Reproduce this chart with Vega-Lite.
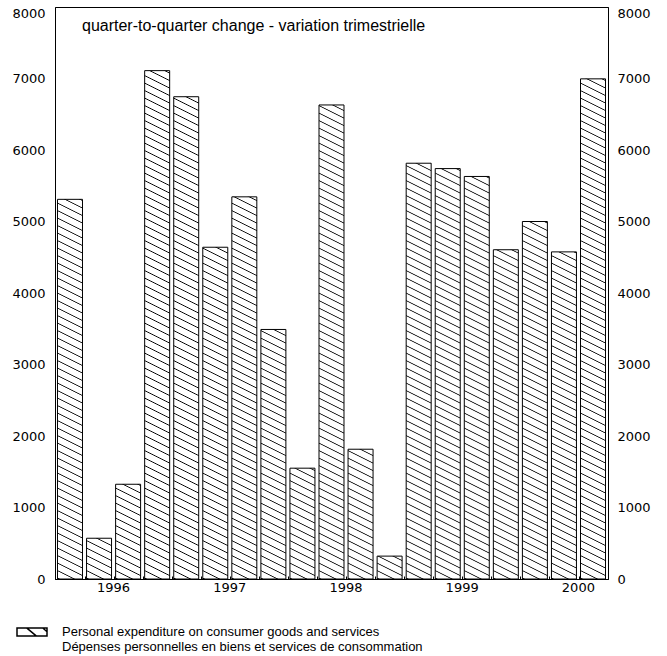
{
  "$schema": "https://vega.github.io/schema/vega-lite/v6.json",
  "autosize": "none",
  "padding": {"left": 55, "top": 7, "right": 59, "bottom": 77},
  "width": 553,
  "height": 572,
  "background": "white",
  "config": {
    "view": {"stroke": "black", "strokeWidth": 1},
    "font": "Liberation Sans"
  },
  "params": [
    {
      "name": "hatch",
      "value": [
        {"offset":0,"color":"#fff"},{"offset":0.0012,"color":"#000"},{"offset":0.0024,"color":"#fff"},
        {"offset":0.01,"color":"#fff"},{"offset":0.0112,"color":"#000"},{"offset":0.0124,"color":"#fff"},
        {"offset":0.02,"color":"#fff"},{"offset":0.0212,"color":"#000"},{"offset":0.0224,"color":"#fff"},
        {"offset":0.03,"color":"#fff"},{"offset":0.0312,"color":"#000"},{"offset":0.0324,"color":"#fff"},
        {"offset":0.04,"color":"#fff"},{"offset":0.0412,"color":"#000"},{"offset":0.0424,"color":"#fff"},
        {"offset":0.05,"color":"#fff"},{"offset":0.0512,"color":"#000"},{"offset":0.0524,"color":"#fff"},
        {"offset":0.06,"color":"#fff"},{"offset":0.0612,"color":"#000"},{"offset":0.0624,"color":"#fff"},
        {"offset":0.07,"color":"#fff"},{"offset":0.0712,"color":"#000"},{"offset":0.0724,"color":"#fff"},
        {"offset":0.08,"color":"#fff"},{"offset":0.0812,"color":"#000"},{"offset":0.0824,"color":"#fff"},
        {"offset":0.09,"color":"#fff"},{"offset":0.0912,"color":"#000"},{"offset":0.0924,"color":"#fff"},
        {"offset":0.10,"color":"#fff"},{"offset":0.1012,"color":"#000"},{"offset":0.1024,"color":"#fff"},
        {"offset":0.11,"color":"#fff"},{"offset":0.1112,"color":"#000"},{"offset":0.1124,"color":"#fff"},
        {"offset":0.12,"color":"#fff"},{"offset":0.1212,"color":"#000"},{"offset":0.1224,"color":"#fff"},
        {"offset":0.13,"color":"#fff"},{"offset":0.1312,"color":"#000"},{"offset":0.1324,"color":"#fff"},
        {"offset":0.14,"color":"#fff"},{"offset":0.1412,"color":"#000"},{"offset":0.1424,"color":"#fff"},
        {"offset":0.15,"color":"#fff"},{"offset":0.1512,"color":"#000"},{"offset":0.1524,"color":"#fff"},
        {"offset":0.16,"color":"#fff"},{"offset":0.1612,"color":"#000"},{"offset":0.1624,"color":"#fff"},
        {"offset":0.17,"color":"#fff"},{"offset":0.1712,"color":"#000"},{"offset":0.1724,"color":"#fff"},
        {"offset":0.18,"color":"#fff"},{"offset":0.1812,"color":"#000"},{"offset":0.1824,"color":"#fff"},
        {"offset":0.19,"color":"#fff"},{"offset":0.1912,"color":"#000"},{"offset":0.1924,"color":"#fff"},
        {"offset":0.20,"color":"#fff"},{"offset":0.2012,"color":"#000"},{"offset":0.2024,"color":"#fff"},
        {"offset":0.21,"color":"#fff"},{"offset":0.2112,"color":"#000"},{"offset":0.2124,"color":"#fff"},
        {"offset":0.22,"color":"#fff"},{"offset":0.2212,"color":"#000"},{"offset":0.2224,"color":"#fff"},
        {"offset":0.23,"color":"#fff"},{"offset":0.2312,"color":"#000"},{"offset":0.2324,"color":"#fff"},
        {"offset":0.24,"color":"#fff"},{"offset":0.2412,"color":"#000"},{"offset":0.2424,"color":"#fff"},
        {"offset":0.25,"color":"#fff"},{"offset":0.2512,"color":"#000"},{"offset":0.2524,"color":"#fff"},
        {"offset":0.26,"color":"#fff"},{"offset":0.2612,"color":"#000"},{"offset":0.2624,"color":"#fff"},
        {"offset":0.27,"color":"#fff"},{"offset":0.2712,"color":"#000"},{"offset":0.2724,"color":"#fff"},
        {"offset":0.28,"color":"#fff"},{"offset":0.2812,"color":"#000"},{"offset":0.2824,"color":"#fff"},
        {"offset":0.29,"color":"#fff"},{"offset":0.2912,"color":"#000"},{"offset":0.2924,"color":"#fff"},
        {"offset":0.30,"color":"#fff"},{"offset":0.3012,"color":"#000"},{"offset":0.3024,"color":"#fff"},
        {"offset":0.31,"color":"#fff"},{"offset":0.3112,"color":"#000"},{"offset":0.3124,"color":"#fff"},
        {"offset":0.32,"color":"#fff"},{"offset":0.3212,"color":"#000"},{"offset":0.3224,"color":"#fff"},
        {"offset":0.33,"color":"#fff"},{"offset":0.3312,"color":"#000"},{"offset":0.3324,"color":"#fff"},
        {"offset":0.34,"color":"#fff"},{"offset":0.3412,"color":"#000"},{"offset":0.3424,"color":"#fff"},
        {"offset":0.35,"color":"#fff"},{"offset":0.3512,"color":"#000"},{"offset":0.3524,"color":"#fff"},
        {"offset":0.36,"color":"#fff"},{"offset":0.3612,"color":"#000"},{"offset":0.3624,"color":"#fff"},
        {"offset":0.37,"color":"#fff"},{"offset":0.3712,"color":"#000"},{"offset":0.3724,"color":"#fff"},
        {"offset":0.38,"color":"#fff"},{"offset":0.3812,"color":"#000"},{"offset":0.3824,"color":"#fff"},
        {"offset":0.39,"color":"#fff"},{"offset":0.3912,"color":"#000"},{"offset":0.3924,"color":"#fff"},
        {"offset":0.40,"color":"#fff"},{"offset":0.4012,"color":"#000"},{"offset":0.4024,"color":"#fff"},
        {"offset":0.41,"color":"#fff"},{"offset":0.4112,"color":"#000"},{"offset":0.4124,"color":"#fff"},
        {"offset":0.42,"color":"#fff"},{"offset":0.4212,"color":"#000"},{"offset":0.4224,"color":"#fff"},
        {"offset":0.43,"color":"#fff"},{"offset":0.4312,"color":"#000"},{"offset":0.4324,"color":"#fff"},
        {"offset":0.44,"color":"#fff"},{"offset":0.4412,"color":"#000"},{"offset":0.4424,"color":"#fff"},
        {"offset":0.45,"color":"#fff"},{"offset":0.4512,"color":"#000"},{"offset":0.4524,"color":"#fff"},
        {"offset":0.46,"color":"#fff"},{"offset":0.4612,"color":"#000"},{"offset":0.4624,"color":"#fff"},
        {"offset":0.47,"color":"#fff"},{"offset":0.4712,"color":"#000"},{"offset":0.4724,"color":"#fff"},
        {"offset":0.48,"color":"#fff"},{"offset":0.4812,"color":"#000"},{"offset":0.4824,"color":"#fff"},
        {"offset":0.49,"color":"#fff"},{"offset":0.4912,"color":"#000"},{"offset":0.4924,"color":"#fff"},
        {"offset":0.50,"color":"#fff"},{"offset":0.5012,"color":"#000"},{"offset":0.5024,"color":"#fff"},
        {"offset":0.51,"color":"#fff"},{"offset":0.5112,"color":"#000"},{"offset":0.5124,"color":"#fff"},
        {"offset":0.52,"color":"#fff"},{"offset":0.5212,"color":"#000"},{"offset":0.5224,"color":"#fff"},
        {"offset":0.53,"color":"#fff"},{"offset":0.5312,"color":"#000"},{"offset":0.5324,"color":"#fff"},
        {"offset":0.54,"color":"#fff"},{"offset":0.5412,"color":"#000"},{"offset":0.5424,"color":"#fff"},
        {"offset":0.55,"color":"#fff"},{"offset":0.5512,"color":"#000"},{"offset":0.5524,"color":"#fff"},
        {"offset":0.56,"color":"#fff"},{"offset":0.5612,"color":"#000"},{"offset":0.5624,"color":"#fff"},
        {"offset":0.57,"color":"#fff"},{"offset":0.5712,"color":"#000"},{"offset":0.5724,"color":"#fff"},
        {"offset":0.58,"color":"#fff"},{"offset":0.5812,"color":"#000"},{"offset":0.5824,"color":"#fff"},
        {"offset":0.59,"color":"#fff"},{"offset":0.5912,"color":"#000"},{"offset":0.5924,"color":"#fff"},
        {"offset":0.60,"color":"#fff"},{"offset":0.6012,"color":"#000"},{"offset":0.6024,"color":"#fff"},
        {"offset":0.61,"color":"#fff"},{"offset":0.6112,"color":"#000"},{"offset":0.6124,"color":"#fff"},
        {"offset":0.62,"color":"#fff"},{"offset":0.6212,"color":"#000"},{"offset":0.6224,"color":"#fff"},
        {"offset":0.63,"color":"#fff"},{"offset":0.6312,"color":"#000"},{"offset":0.6324,"color":"#fff"},
        {"offset":0.64,"color":"#fff"},{"offset":0.6412,"color":"#000"},{"offset":0.6424,"color":"#fff"},
        {"offset":0.65,"color":"#fff"},{"offset":0.6512,"color":"#000"},{"offset":0.6524,"color":"#fff"},
        {"offset":0.66,"color":"#fff"},{"offset":0.6612,"color":"#000"},{"offset":0.6624,"color":"#fff"},
        {"offset":0.67,"color":"#fff"},{"offset":0.6712,"color":"#000"},{"offset":0.6724,"color":"#fff"},
        {"offset":0.68,"color":"#fff"},{"offset":0.6812,"color":"#000"},{"offset":0.6824,"color":"#fff"},
        {"offset":0.69,"color":"#fff"},{"offset":0.6912,"color":"#000"},{"offset":0.6924,"color":"#fff"},
        {"offset":0.70,"color":"#fff"},{"offset":0.7012,"color":"#000"},{"offset":0.7024,"color":"#fff"},
        {"offset":0.71,"color":"#fff"},{"offset":0.7112,"color":"#000"},{"offset":0.7124,"color":"#fff"}
      ]
    }
  ],
  "data": {
    "values": [
      {"q": "1996 Q1", "v": 5310},
      {"q": "1996 Q2", "v": 570},
      {"q": "1996 Q3", "v": 1325},
      {"q": "1996 Q4", "v": 7110},
      {"q": "1997 Q1", "v": 6745},
      {"q": "1997 Q2", "v": 4640},
      {"q": "1997 Q3", "v": 5345},
      {"q": "1997 Q4", "v": 3490},
      {"q": "1998 Q1", "v": 1550},
      {"q": "1998 Q2", "v": 6630},
      {"q": "1998 Q3", "v": 1815},
      {"q": "1998 Q4", "v": 320},
      {"q": "1999 Q1", "v": 5815},
      {"q": "1999 Q2", "v": 5740},
      {"q": "1999 Q3", "v": 5630},
      {"q": "1999 Q4", "v": 4605},
      {"q": "2000 Q1", "v": 5000},
      {"q": "2000 Q2", "v": 4575},
      {"q": "2000 Q3", "v": 6995}
    ]
  },
  "title": {
    "text": "quarter-to-quarter change - variation trimestrielle",
    "anchor": "start",
    "frame": "group",
    "baseline": "alphabetic",
    "offset": -40,
    "dx": 27,
    "font": "Liberation Sans",
    "fontSize": 16,
    "fontWeight": "normal",
    "color": "black"
  },
  "layer": [
    {
      "mark": {
        "type": "bar",
        "strokeWidth": 1,
        "fill": {"expr": "isValid(datum.v) ? {gradient: 'linear', x1: 0, y1: 1, x2: 1500*bandwidth('x')/(bandwidth('x')*bandwidth('x')+4*pow(scale('y',0)-scale('y',datum.v),2)), y2: 1-3000*(scale('y',0)-scale('y',datum.v))/(bandwidth('x')*bandwidth('x')+4*pow(scale('y',0)-scale('y',datum.v),2)), stops: hatch} : 'white'"}
      },
      "encoding": {
        "x": {
          "field": "q",
          "type": "ordinal",
          "sort": null,
          "scale": {"paddingInner": 0.14, "paddingOuter": 0.086},
          "axis": {
            "title": null,
            "bandPosition": 0,
            "tickOffset": -2,
            "tickSize": -3,
            "tickColor": "black",
            "domainColor": "black",
            "labelExpr": "indexof(datum.label, 'Q1') > 0 ? substring(datum.label, 0, 4) : ''",
            "labelOffset": 45,
            "labelAngle": 0,
            "labelFont": "DejaVu Sans",
            "labelFontSize": 13,
            "labelColor": "black",
            "labelPadding": 5,
            "labelOverlap": false,
            "labelBound": false,
            "labelFlush": false
          }
        },
        "y": {
          "field": "v",
          "type": "quantitative",
          "scale": {"domain": [0, 8000], "nice": false},
          "axis": {
            "title": null,
            "orient": "left",
            "format": "d",
            "values": [0, 1000, 2000, 3000, 4000, 5000, 6000, 7000, 8000],
            "ticks": false,
            "grid": false,
            "domainColor": "black",
            "labelFont": "DejaVu Sans",
            "labelFontSize": 13,
            "labelColor": "black",
            "labelPadding": 10,
            "labelBaseline": {"condition": {"test": "datum.value == 8000", "value": "top"}, "value": "middle"}
          }
        },
        "stroke": {
          "datum": "Personal expenditure on consumer goods and services",
          "scale": {"range": ["black"]},
          "legend": {
            "orient": "none",
            "legendX": -39,
            "legendY": 609,
            "title": null,
            "padding": 0,
            "symbolType": "M-1,-0.27H1V0.27H-1Z M-0.36,-0.27L0.3,0.27 M0.72,-0.27L1,-0.02",
            "symbolSize": 900,
            "symbolFillColor": "white",
            "symbolStrokeColor": "black",
            "symbolStrokeWidth": 1.5,
            "labelFont": "Liberation Sans",
            "labelFontSize": 13,
            "labelColor": "black",
            "labelOffset": 14,
            "labelLimit": 600,
            "labelExpr": "['Personal expenditure on consumer goods and services', 'Dépenses personnelles en biens et services de consommation']"
          }
        }
      }
    },
    {
      "mark": {"type": "rule", "strokeOpacity": 0},
      "encoding": {
        "y": {
          "field": "v",
          "type": "quantitative",
          "axis": {
            "title": null,
            "orient": "right",
            "format": "d",
            "values": [0, 1000, 2000, 3000, 4000, 5000, 6000, 7000, 8000],
            "ticks": false,
            "grid": false,
            "domainColor": "black",
            "labelFont": "DejaVu Sans",
            "labelFontSize": 13,
            "labelColor": "black",
            "labelPadding": 9,
            "labelBaseline": {"condition": {"test": "datum.value == 8000", "value": "top"}, "value": "middle"}
          }
        }
      }
    }
  ],
  "resolve": {"axis": {"y": "independent"}}
}
